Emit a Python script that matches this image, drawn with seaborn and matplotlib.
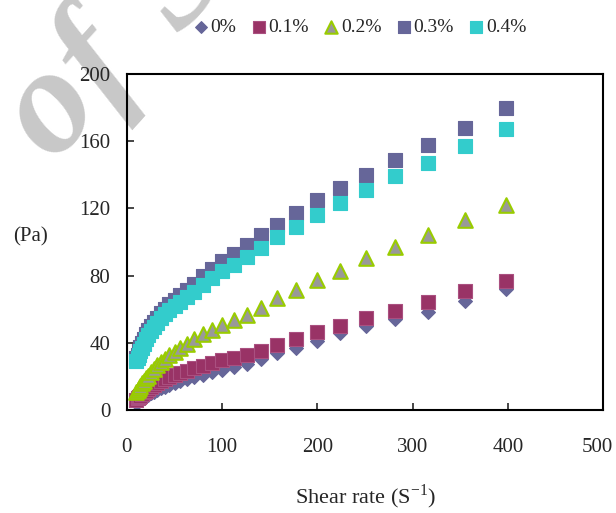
import matplotlib
matplotlib.use("Agg")
import matplotlib.pyplot as plt
from matplotlib.transforms import ScaledTranslation
import seaborn as sns
import pandas as pd

# shear rates (1/s), 20 points per decade
shear_rate = [10, 11.2, 12.6, 14.1, 15.8, 17.8, 20, 22.4, 25.1, 28.2, 31.6,
              35.5, 39.8, 44.7, 50.1, 56.2, 63.1, 70.8, 79.4, 89.1, 100,
              112, 126, 141, 158, 178, 200, 224, 251, 282, 316, 355, 398]

# shear stress (Pa) for each concentration
stress_0 = [4.2, 4.8, 5.4, 6.1, 6.8, 7.5, 8.3, 9.1, 10, 10.9, 11.8,
            12.8, 13.8, 14.9, 16, 17.2, 18.4, 19.7, 21, 22.5, 24,
            25.8, 27.6, 30.4, 33.7, 36.9, 41.3, 45.6, 50.2, 54.2, 58.5, 65, 72]
stress_01 = [6, 7, 7.8, 8.6, 9.5, 10.5, 11.5, 12.5, 13.5, 14.8, 16,
             17.2, 18.5, 19.8, 21, 22.3, 23.5, 25, 26.3, 27.8, 29.5,
             31, 32.7, 35.3, 38.7, 42.1, 46.3, 50.2, 55, 59, 64.5, 70.8, 77]
stress_02 = [11, 12, 13.3, 14.5, 16, 17.5, 19, 20.5, 22.5, 24.5, 26.5,
             28.5, 30.5, 32.5, 34.5, 37, 39.5, 42, 45, 47.5, 50.5,
             53.5, 56.5, 60.5, 66.5, 71.4, 77.4, 83, 90.3, 97, 104, 113, 122]
stress_03 = [31, 33, 35, 37.5, 40, 42.5, 45, 47.5, 50, 52.5, 55,
             57.5, 60, 63, 65.5, 68.5, 71.5, 75, 79.5, 84, 88.5,
             93, 98, 104, 110, 117, 125, 132, 140, 149, 158, 168, 180]
stress_04 = [29, 31, 33, 35, 37, 39.5, 42, 44.5, 47, 49.5, 52,
             54.5, 57, 59.5, 62, 64.5, 67.5, 70.5, 74.5, 78.5, 82.5,
             86.5, 91, 96.4, 103, 109, 116, 123, 131, 139, 147, 157, 167]

labels = ["0%", "0.1%", "0.2%", "0.3%", "0.4%"]
series = [stress_0, stress_01, stress_02, stress_03, stress_04]

frames = []
for lab, vals in zip(labels, series):
    frames.append(pd.DataFrame({"rate": shear_rate, "stress": vals, "conc": lab}))
df = pd.concat(frames, ignore_index=True)

sns.set_style("white")
plt.rcParams["font.family"] = ["Liberation Serif", "DejaVu Serif"]
plt.rcParams["mathtext.fontset"] = "stix"

fig = plt.figure(figsize=(6.16, 5.13), dpi=100)
ax = fig.add_axes([0.206, 0.2008, 0.773, 0.655])
ax.patch.set_alpha(0)

styles = {
    "0%": dict(marker="D", color="#666699", edgecolor="#666699", s=50),
    "0.1%": dict(marker="s", color="#993366", edgecolor="#aa5080", s=90),
    "0.2%": dict(marker="^", color="#999999", edgecolor="#99cc00", s=110),
    "0.3%": dict(marker="s", color="#666699", edgecolor="#666699", s=90),
    "0.4%": dict(marker="s", color="#33cccc", edgecolor="#33cccc", s=90),
}

for lab in labels:
    st = styles[lab]
    sns.scatterplot(data=df[df.conc == lab], x="rate", y="stress", ax=ax,
                    marker=st["marker"], color=st["color"], edgecolor=st["edgecolor"],
                    s=st["s"], linewidth=1.5 if lab == "0.2%" else 0.8, label=lab)

ax.set_xlim(0, 500)
ax.set_ylim(0, 200)
ax.set_xticks([0, 100, 200, 300, 400, 500])
ax.set_yticks([0, 40, 80, 120, 160, 200])
ax.set_xlabel("")
ax.set_ylabel("")
ax.tick_params(axis="x", direction="in", length=5, width=1.2, pad=20,
               labelsize=15, bottom=True, top=False)
ax.tick_params(axis="y", direction="in", length=5, width=1.2, pad=12,
               labelsize=15, left=True, right=False)
for sp in ax.spines.values():
    sp.set_visible(True)
    sp.set_color("black")
    sp.set_linewidth(1.5)

# keep the last x label inside the picture
last = ax.get_xticklabels()[-1]
last.set_transform(last.get_transform() + ScaledTranslation(-0.06, 0, fig.dpi_scale_trans))

leg = ax.legend(loc="center", bbox_to_anchor=(0.583, 0.947),
                bbox_transform=fig.transFigure, ncol=5, frameon=False,
                fontsize=14, handletextpad=0.05, columnspacing=0.7,
                handlelength=0.9, markerscale=0.85, borderaxespad=0)

fig.text(0.049, 0.538, "(Pa)", fontsize=15, ha="center", va="center")
fig.text(0.594, 0.031, "Shear rate (S$^{\\mathregular{-1}}$)", fontsize=16,
         ha="center", va="center")

# faint watermark behind the chart, one letter at a time
wm = dict(fontsize=108, fontweight="bold", fontstyle="italic", color="#c8c8c8",
          rotation=48, rotation_mode="anchor", ha="center", va="center", zorder=-1)
fig.text(0.084, 0.786, "o", **wm)
fig.text(0.160, 0.872, "f", **wm)
fig.text(0.290, 1.040, "S", **wm)

fig.savefig("out.png", dpi=100)
